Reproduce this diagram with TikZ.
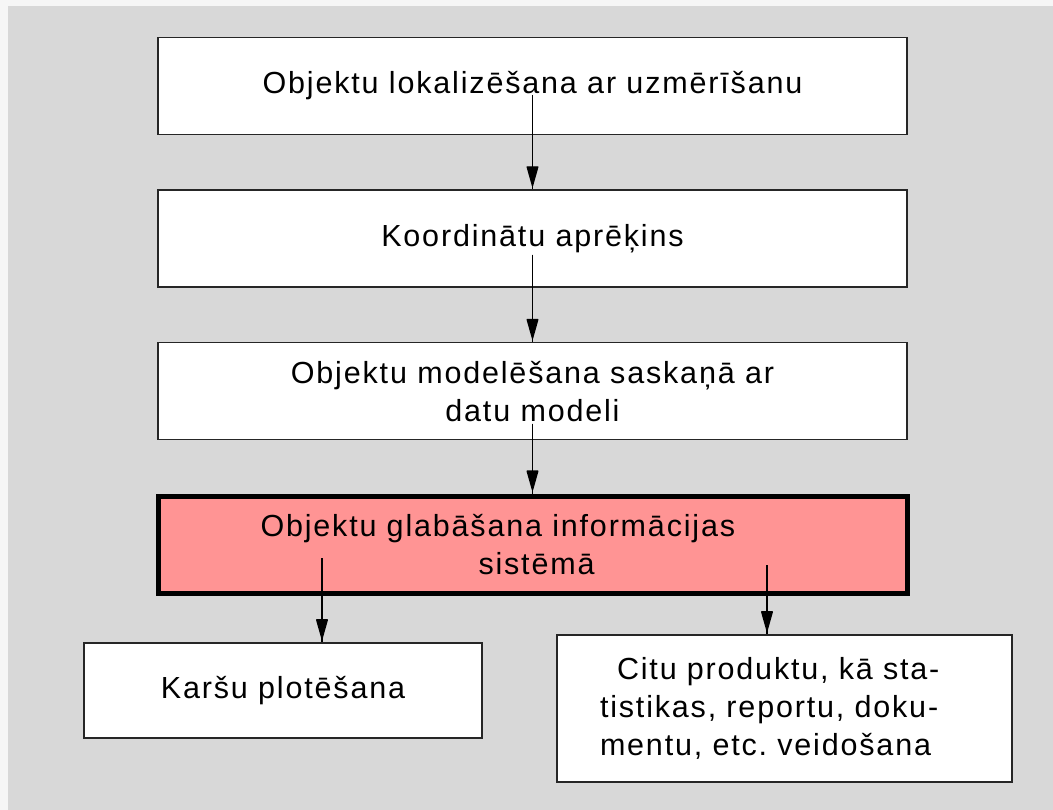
\documentclass[tikz,border=0pt]{standalone}
\usepackage{fontspec}
\newfontfamily\diafont[LetterSpace=6]{Liberation Sans}
\usetikzlibrary{positioning, arrows.meta}
\definecolor{bggray}{RGB}{216,216,216}
\definecolor{edgegray}{RGB}{246,246,246}
\definecolor{storered}{RGB}{255,148,148}

\begin{document}
\begin{tikzpicture}[x=1pt,y=1pt,node distance=54pt,
    block node/.style={rectangle,draw=black!85,line width=1.6pt,fill=white,
        minimum width=749pt,minimum height=97pt,inner sep=0pt,align=center,
        font=\diafont\fontsize{30.5}{38}\selectfont},
    store node/.style={block node,draw=black,line width=5pt,fill=storered},
    flow/.style={draw,line width=1.4pt,-{Triangle[length=22pt,width=12pt,round]},shorten >=3pt,
        postaction={draw,arrows=-,shorten >=0pt}}]

    % background
    \useasboundingbox (0,0) rectangle (1053,-810);
    \fill[edgegray] (0,0) rectangle (1053,-810);
    \fill[bggray] (8,-6) rectangle (1053,-810);

    \node[block node] (lok) at (532.5,-86) {Objektu lokalizēšana ar uzmērīšanu};
    \node[block node] (koord) [below=of lok] {Koordinātu aprēķins};
    \node[block node] (model) [below=of koord] {Objektu modelēšana saskaņā ar\\datu modeli};
    \node[store node, text width=544pt, inner xsep=102.5pt, align=left] (glab) [below=53pt of model]
        {Objektu glabāšana informācijas\\\hspace*{218pt}sistēmā};
    \node[block node, minimum width=398pt, minimum height=95pt] (karsu) at (283,-690.5) {Karšu plotēšana};
    \node[block node, minimum width=455pt, minimum height=147pt, text width=369pt,
          inner xsep=43pt, align=left] (citu) at (784.5,-708.5)
        {\hspace*{17pt}Citu produktu, kā sta-\\tistikas, reportu, doku-\\mentu, etc.\ veidošana};

    % arrows
    \coordinate (outl) at ([xshift=-210.5pt,yshift=-13.5pt]glab.center);
    \coordinate (outr) at ([xshift=234.5pt,yshift=-20.5pt]glab.center);
    \draw[flow] ([yshift=-9pt]lok.center) -- (koord.north);
    \draw[flow] ([yshift=-16pt]koord.center) -- (model.north);
    \draw[flow] ([yshift=-32.5pt]model.center) -- (glab.north);
    \draw[flow] (outl) -- (outl |- karsu.north);
    \draw[flow] (outr) -- (outr |- citu.north);
\end{tikzpicture}
\end{document}
